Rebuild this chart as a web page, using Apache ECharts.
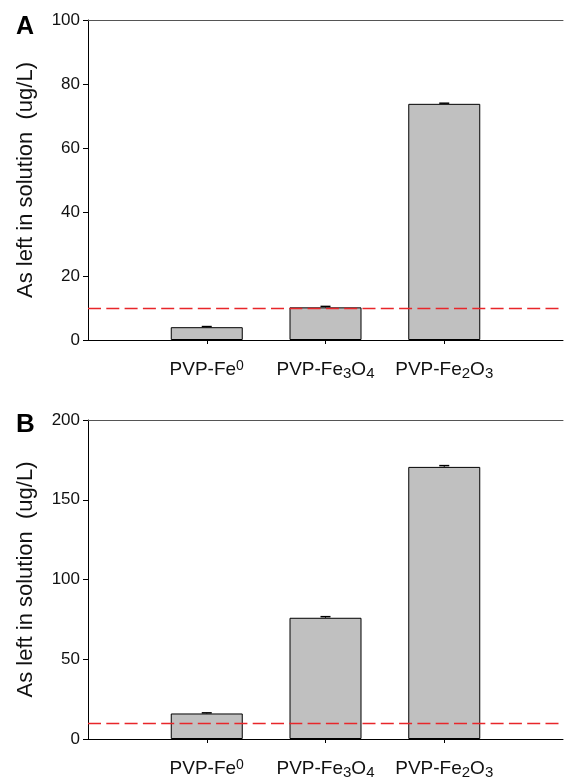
<!DOCTYPE html>
<html>
<head>
<meta charset="utf-8">
<script src="https://cdn.jsdelivr.net/npm/echarts@6/dist/echarts.min.js"></script>
<style>
  html, body { margin: 0; padding: 0; background: #fff; }
  #main { width: 566px; height: 780px; }
</style>
</head>
<body>
<div id="main"></div>
<script>
// bar categories (rich text keys for sub/superscripts)
const categories = ['PVP-Fe0', 'PVP-Fe3O4', 'PVP-Fe2O3'];
const categoryLabels = ['PVP-Fe{sup|0}', 'PVP-Fe{sub|3}O{sub|4}', 'PVP-Fe{sub|2}O{sub|3}'];

// panel A
const valuesA = [4.0, 10.2, 73.8];
const errorsA = [0.2, 0.3, 0.2];
// panel B
const valuesB = [16.0, 76.0, 170.6];
const errorsB = [0.4, 0.7, 0.8];

const thresholdA = 10;
const thresholdB = 10;

const yTicksA = { min: 0, max: 100, interval: 20 };
const yTicksB = { min: 0, max: 200, interval: 50 };

const FONT = 'Liberation Sans, Arial, Helvetica, sans-serif';

// pad with empty slots so the axis runs past the bars on both sides
const axisCats = [''].concat(categories, ['']);
const labelMap = {};
categories.forEach(function (c, i) { labelMap[c] = categoryLabels[i]; });

function padded(arr) {
  return ['-'].concat(arr, ['-']);
}

function bottomAxis(gridIndex) {
  return {
    type: 'category',
    gridIndex: gridIndex,
    data: axisCats,
    boundaryGap: false,
    position: 'bottom',
    axisLine: { lineStyle: { color: '#000', width: 1 } },
    axisTick: {
      length: 4, inside: false,
      interval: function (idx) { return idx > 0 && idx < axisCats.length - 1; },
      lineStyle: { color: '#000' }
    },
    axisLabel: {
      interval: 0,
      margin: 19,
      formatter: function (v) { return labelMap[v] || ''; },
      color: '#111',
      fontFamily: FONT,
      fontSize: 19,
      lineHeight: 22,
      rich: {
        sup: { fontSize: 14, fontFamily: FONT, color: '#111', verticalAlign: 'top', lineHeight: 13 },
        sub: { fontSize: 15, fontFamily: FONT, color: '#111', verticalAlign: 'bottom', lineHeight: 16 }
      }
    },
    splitLine: { show: false }
  };
}

function topAxis(gridIndex) {
  return {
    type: 'category',
    gridIndex: gridIndex,
    data: axisCats,
    boundaryGap: false,
    position: 'top',
    axisLine: { lineStyle: { color: '#555', width: 1 } },
    axisTick: { show: false },
    axisLabel: { show: false },
    splitLine: { show: false }
  };
}

function valueAxis(gridIndex, t) {
  return {
    type: 'value',
    gridIndex: gridIndex,
    min: t.min, max: t.max, interval: t.interval,
    name: 'As left in solution  (ug/L)',
    nameLocation: 'middle',
    nameGap: 51,
    nameTextStyle: { fontFamily: FONT, fontSize: 22, color: '#111' },
    axisLine: { show: true, lineStyle: { color: '#000', width: 1 } },
    axisTick: { show: true, length: 5, lineStyle: { color: '#000' } },
    axisLabel: { margin: 8, fontFamily: FONT, fontSize: 17, color: '#111' },
    splitLine: { show: false }
  };
}

function barSeries(idx, values, threshold) {
  return {
    type: 'bar',
    xAxisIndex: idx * 2,
    yAxisIndex: idx,
    data: padded(values),
    barWidth: 72,
    itemStyle: { color: '#c0c0c0', borderColor: '#000', borderWidth: 1 },
    silent: true,
    markLine: {
      silent: true,
      symbol: 'none',
      label: { show: false },
      lineStyle: { color: '#e8262a', type: [13, 5.3], width: 1.4 },
      data: [{ yAxis: threshold }]
    }
  };
}

function errorSeries(idx, values, errors) {
  const data = values.map(function (v, i) { return [i + 1, v, errors[i]]; });
  return {
    type: 'custom',
    xAxisIndex: idx * 2,
    yAxisIndex: idx,
    data: data,
    silent: true,
    z: 5,
    renderItem: function (params, api) {
      const x = api.value(0);
      const v = api.value(1);
      const e = api.value(2);
      const top = api.coord([x, v + e]);
      const base = api.coord([x, v]);
      const hw = 5;
      return {
        type: 'group',
        children: [
          { type: 'line', shape: { x1: top[0], y1: base[1], x2: top[0], y2: top[1] },
            style: { stroke: '#000', lineWidth: 1 } },
          { type: 'line', shape: { x1: top[0] - hw, y1: top[1], x2: top[0] + hw, y2: top[1] },
            style: { stroke: '#000', lineWidth: 1.5 } }
        ]
      };
    }
  };
}

const chart = echarts.init(document.getElementById('main'), null, { renderer: 'canvas' });

const option = {
  animation: false,
  backgroundColor: '#fff',
  title: [
    { text: 'A', left: 11, top: 10, textStyle: { fontFamily: FONT, fontSize: 25, fontWeight: 'bold', color: '#000' } },
    { text: 'B', left: 11, top: 407, textStyle: { fontFamily: FONT, fontSize: 26, fontWeight: 'bold', color: '#000' } }
  ],
  grid: [
    { left: 88, top: 20, width: 480, height: 320 },
    { left: 88, top: 420, width: 480, height: 320 }
  ],
  xAxis: [bottomAxis(0), topAxis(0), bottomAxis(1), topAxis(1)],
  yAxis: [valueAxis(0, yTicksA), valueAxis(1, yTicksB)],
  series: [
    barSeries(0, valuesA, thresholdA),
    errorSeries(0, valuesA, errorsA),
    barSeries(1, valuesB, thresholdB),
    errorSeries(1, valuesB, errorsB)
  ]
};

chart.setOption(option);
</script>
</body>
</html>
